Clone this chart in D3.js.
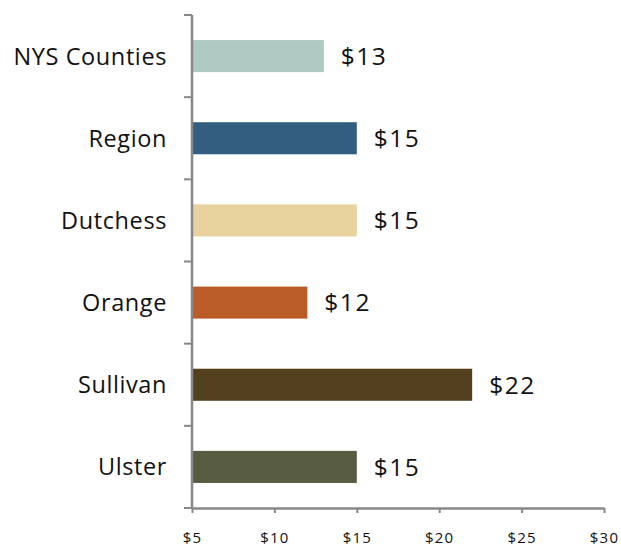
<!DOCTYPE html>
<html>
<head>
<meta charset="utf-8">
<script src="https://cdn.jsdelivr.net/npm/d3@7"></script>
<style>
  body { margin: 0; background: #fff; }
  text { font-family: "Open Sans", "Lato", sans-serif; }
</style>
</head>
<body>
<svg id="chart" width="621" height="548"></svg>
<script>
const categories = ["NYS Counties", "Region", "Dutchess", "Orange", "Sullivan", "Ulster"];
const values = [13, 15, 15, 12, 22, 15];
const colors = ["#afcac2", "#335e80", "#e8d39f", "#b95c27", "#52401f", "#575b3f"];
const xTicks = [5, 10, 15, 20, 25, 30];

const data = categories.map((c, i) => ({ name: c, value: values[i], color: colors[i] }));

const plotLeft = 192, plotRight = 604, plotTop = 15, plotBottom = 508;
const svg = d3.select("#chart");

let xScale = d3.scaleLinear().domain([5, 30]).range([plotLeft, plotRight]);
let yScale = d3
  .scaleBand()
  .domain(categories)
  .range([plotTop, plotBottom])
  .paddingInner(0.61)
  .paddingOuter(0.305);

// bars
svg
  .selectAll(".bar")
  .data(data)
  .join("rect")
  .attr("class", "bar")
  .attr("x", xScale(5))
  .attr("y", (d) => yScale(d.name))
  .attr("width", (d) => xScale(d.value) - xScale(5))
  .attr("height", yScale.bandwidth())
  .attr("fill", (d) => d.color);

// value labels
svg
  .selectAll(".val")
  .data(data)
  .join("text")
  .attr("class", "val")
  .attr("x", (d) => xScale(d.value) + 17)
  .attr("y", (d) => yScale(d.name) + yScale.bandwidth() / 2)
  .attr("dy", "0.36em")
  .attr("font-size", 24.5)
  .attr("letter-spacing", 1.5)
  .attr("fill", "#111")
  .text((d) => "$" + d.value);

// category labels
svg
  .selectAll(".cat")
  .data(data)
  .join("text")
  .attr("class", "cat")
  .attr("x", plotLeft - 25)
  .attr("y", (d) => yScale(d.name) + yScale.bandwidth() / 2)
  .attr("dy", "0.36em")
  .attr("text-anchor", "end")
  .attr("font-size", 23.5)
  .attr("letter-spacing", 0.6)
  .attr("fill", "#111")
  .text((d) => d.name);

const axisColor = "#888";

// y axis with boundary ticks
const yTickPos = d3.range(categories.length + 1).map((i) => plotTop + i * (plotBottom - plotTop) / categories.length);
svg.append("line")
  .attr("x1", plotLeft).attr("x2", plotLeft)
  .attr("y1", plotTop).attr("y2", plotBottom)
  .attr("stroke", axisColor).attr("stroke-width", 2.5);
svg.selectAll(".ytick")
  .data(yTickPos)
  .join("line")
  .attr("class", "ytick")
  .attr("x1", plotLeft - 8).attr("x2", plotLeft)
  .attr("y1", (d) => d).attr("y2", (d) => d)
  .attr("stroke", axisColor).attr("stroke-width", 2);

// x axis
const xAxis = d3.axisBottom(xScale)
  .tickValues(xTicks)
  .tickSize(5)
  .tickSizeOuter(0)
  .tickFormat((d) => "$" + d);
const gx = svg.append("g").attr("transform", "translate(0," + plotBottom + ")").call(xAxis);
gx.select(".domain").attr("stroke", axisColor).attr("stroke-width", 2.5);
gx.selectAll(".tick line").attr("stroke", axisColor).attr("stroke-width", 2);
gx.selectAll(".tick text")
  .attr("font-size", 15)
  .attr("letter-spacing", 1.2)
  .attr("fill", "#111")
  .attr("y", 30)
  .attr("dy", "0.36em");
</script>
</body>
</html>
